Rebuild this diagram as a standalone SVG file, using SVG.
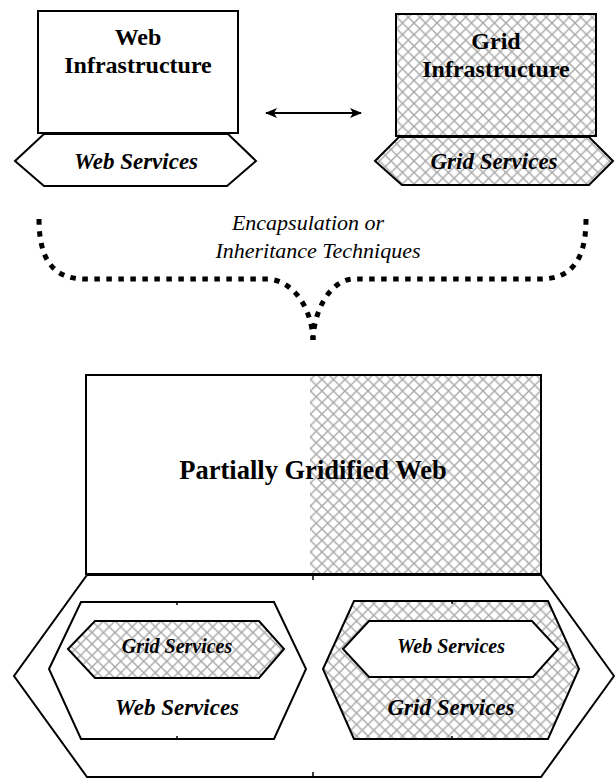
<svg xmlns="http://www.w3.org/2000/svg" width="615" height="778" viewBox="0 0 615 778">
<defs>
<pattern id="hatch" patternUnits="userSpaceOnUse" width="11.5" height="11.5">
<rect width="11.5" height="11.5" fill="#fff"/>
<path d="M-1,-1 L12.5,12.5 M12.5,-1 L-1,12.5" stroke="#a8a8a8" stroke-width="1.4" fill="none"/>
</pattern>
<marker id="ah" viewBox="0 0 12 10" refX="11" refY="5" markerWidth="13" markerHeight="10" markerUnits="userSpaceOnUse" orient="auto-start-reverse">
<path d="M0,0 L12,5 L0,10 L3,5 Z" fill="#000"/>
</marker>
<style>
.box{fill:#fff;stroke:#000;stroke-width:2}
.hbox{fill:url(#hatch);stroke:#000;stroke-width:2}
.ln{fill:none;stroke:#000;stroke-width:2}
.t{font-family:"Liberation Serif","Times New Roman",serif;text-anchor:middle;fill:#000}
.b{font-weight:bold}
.i{font-style:italic}
.dot{fill:none;stroke:#000;stroke-width:5;stroke-dasharray:5.5 6.5}
.tick{stroke:#000;stroke-width:1.5}
</style>
</defs>
<rect width="615" height="778" fill="#fff"/>

<g id="web-infrastructure">
<polygon class="box" points="15,161 44,134 228,134 256,161 227,186 44,186"/>
<rect class="box" x="38" y="11" width="200" height="122"/>
<text class="t b" x="138" y="45" font-size="24">Web</text>
<text class="t b" x="138" y="73" font-size="24">Infrastructure</text>
<text class="t b i" x="136" y="169" font-size="23">Web Services</text>
</g>

<g id="grid-infrastructure">
<polygon class="hbox" points="375,161 399,137 589,137 613,161 589,185 402,185"/>
<rect class="hbox" x="396" y="14" width="200" height="122"/>
<text class="t b" x="496" y="49" font-size="24">Grid</text>
<text class="t b" x="496" y="77" font-size="24">Infrastructure</text>
<text class="t b i" x="494" y="169" font-size="23">Grid Services</text>
</g>

<g id="technique-label">
<text class="t i" x="308" y="230" font-size="22">Encapsulation or</text>
<text class="t i" x="318" y="258" font-size="22">Inheritance Techniques</text>
</g>

<g id="partially-gridified-web">
<polygon class="box" points="87,575 541,575 614,676 541,777 87,777 14,676"/>
<rect x="86" y="375" width="224" height="199" fill="#fff"/>
<rect x="310" y="375" width="231" height="199" fill="url(#hatch)"/>
<rect class="ln" x="86" y="375" width="455" height="199"/>
<text class="t b" x="313" y="479" font-size="26.5">Partially Gridified Web</text>
<line class="tick" x1="313" y1="574" x2="313" y2="580"/>
<line class="tick" x1="313" y1="772" x2="313" y2="777"/>
</g>

<g id="web-services-with-grid">
<polygon class="box" points="49,669 81,602 274,602 306,669 274,739 81,739"/>
<polygon class="hbox" points="68,649 95,621 259,621 284,649 259,678 95,678"/>
<text class="t b i" x="177" y="653" font-size="20">Grid Services</text>
<text class="t b i" x="177" y="715" font-size="23">Web Services</text>
<line class="tick" x1="177" y1="601" x2="177" y2="605"/>
<line class="tick" x1="177" y1="736" x2="177" y2="740"/>
</g>

<g id="grid-services-with-web">
<polygon class="hbox" points="323,669 354,601 548,601 579,669 548,739 354,739"/>
<polygon class="box" points="343,649 369,621 532,621 558,649 533,677 369,677"/>
<text class="t b i" x="451" y="653" font-size="20">Web Services</text>
<text class="t b i" x="451" y="715" font-size="23">Grid Services</text>
<line class="tick" x1="452" y1="600" x2="452" y2="604"/>
<line class="tick" x1="452" y1="736" x2="452" y2="740"/>
</g>

<g id="connectors">
<line class="ln" x1="266" y1="113" x2="361" y2="113" marker-start="url(#ah)" marker-end="url(#ah)"/>
<path class="dot" d="M39,219 C39,262 55,279 85,279 L268,279 C295,281 312,310 313,340"/>
<path class="dot" d="M586,219 C586,262 570,279 540,279 L352,279 C330,281 314,310 313,340"/>
</g>
</svg>
